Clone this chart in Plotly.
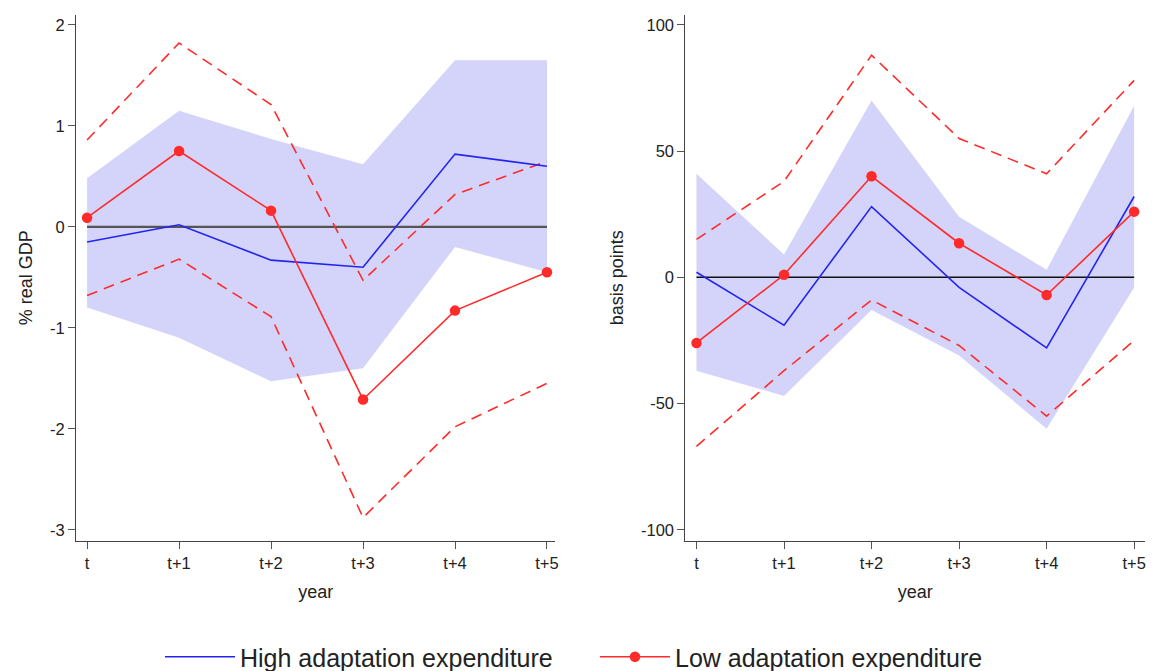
import plotly.graph_objects as go

years = ["t", "t+1", "t+2", "t+3", "t+4", "t+5"]

# Left panel: % real GDP
gdp_high = [-0.15, 0.02, -0.33, -0.40, 0.72, 0.60]
gdp_high_hi = [0.48, 1.15, 0.87, 0.62, 1.65, 1.65]
gdp_high_lo = [-0.80, -1.10, -1.53, -1.40, -0.20, -0.45]
gdp_low = [0.09, 0.75, 0.16, -1.71, -0.83, -0.45]
gdp_low_hi = [0.86, 1.82, 1.21, -0.53, 0.32, 0.65]
gdp_low_lo = [-0.68, -0.32, -0.89, -2.88, -1.98, -1.55]
gdp_ticks = [-3, -2, -1, 0, 1, 2]

# Right panel: basis points
bp_high = [2, -19, 28, -4, -28, 32]
bp_high_hi = [41, 9, 70, 24, 3, 68]
bp_high_lo = [-37, -47, -13, -31, -60, -4]
bp_low = [-26, 1, 40, 13.5, -7, 26]
bp_low_hi = [15, 38, 88, 55, 41, 78]
bp_low_lo = [-67, -37, -9, -27, -55, -25]
bp_ticks = [-100, -50, 0, 50, 100]

x = list(range(len(years)))
zeros = [0] * len(years)

BAND = "rgba(212,212,251,1)"
BLUE = "#2424f0"
RED = "#ff2a2a"
FONT = "Liberation Sans, Arial, sans-serif"
DASH = "11px,7px"

fig = go.Figure()

def add_panel(xa, ya, hi_b, lo_b, high, low, low_hi, low_lo, zcolor, zwidth, legend):
    fig.add_trace(go.Scatter(x=x, y=hi_b, mode="lines", line=dict(width=0, color=BAND),
                             showlegend=False, hoverinfo="skip", xaxis=xa, yaxis=ya))
    fig.add_trace(go.Scatter(x=x, y=lo_b, mode="lines", line=dict(width=0, color=BAND),
                             fill="tonexty", fillcolor=BAND,
                             showlegend=False, hoverinfo="skip", xaxis=xa, yaxis=ya))
    fig.add_trace(go.Scatter(x=x, y=zeros, mode="lines", line=dict(width=zwidth, color=zcolor),
                             showlegend=False, xaxis=xa, yaxis=ya))
    fig.add_trace(go.Scatter(x=x, y=low_hi, mode="lines", line=dict(width=1.6, color=RED, dash=DASH),
                             showlegend=False, xaxis=xa, yaxis=ya))
    fig.add_trace(go.Scatter(x=x, y=low_lo, mode="lines", line=dict(width=1.6, color=RED, dash=DASH),
                             showlegend=False, xaxis=xa, yaxis=ya))
    fig.add_trace(go.Scatter(x=x, y=high, mode="lines", line=dict(width=1.6, color=BLUE),
                             name="High adaptation expenditure", showlegend=legend,
                             legendrank=1, xaxis=xa, yaxis=ya))
    fig.add_trace(go.Scatter(x=x, y=low, mode="lines+markers", line=dict(width=1.6, color=RED),
                             marker=dict(size=10.5, color=RED),
                             name="Low adaptation expenditure", showlegend=legend,
                             legendrank=2, xaxis=xa, yaxis=ya))

add_panel("x", "y", gdp_high_hi, gdp_high_lo, gdp_high, gdp_low, gdp_low_hi, gdp_low_lo, "#555555", 2.2, True)
add_panel("x2", "y2", bp_high_hi, bp_high_lo, bp_high, bp_low, bp_low_hi, bp_low_lo, "#111111", 1.5, False)

axis_common = dict(showgrid=False, zeroline=False, showline=True, linecolor="#444444", linewidth=1.2,
                   ticks="outside", ticklen=7, tickcolor="#555555", tickwidth=1.2,
                   tickfont=dict(size=16.5, color="#222222", family=FONT))

ydom = [0.194, 0.978]
fig.update_layout(
    width=1152, height=671,
    margin=dict(l=0, r=0, t=0, b=0, autoexpand=False),
    paper_bgcolor="white", plot_bgcolor="white",
    font=dict(family=FONT, color="#222222"),
    xaxis=dict(domain=[0.066, 0.482], range=[-0.12, 5.09], tickvals=x, ticktext=years, anchor="y",
               title=dict(text="year", font=dict(size=18), standoff=14), **axis_common),
    yaxis=dict(domain=ydom, range=[-3.11, 2.1], tickvals=gdp_ticks,
               ticktext=[str(v) for v in gdp_ticks], anchor="x",
               title=dict(text="% real GDP", font=dict(size=18), standoff=12), **axis_common),
    xaxis2=dict(domain=[0.595, 0.994], range=[-0.126, 5.125], tickvals=x, ticktext=years, anchor="y2",
                title=dict(text="year", font=dict(size=18), standoff=14), **axis_common),
    yaxis2=dict(domain=ydom, range=[-104.4, 104], tickvals=bp_ticks,
                ticktext=[str(v) for v in bp_ticks], anchor="x2",
                title=dict(text="basis points", font=dict(size=18), standoff=12), **axis_common),
    legend=dict(orientation="h", x=160 / 1152, xanchor="left", y=(671 - 657) / 671, yanchor="middle",
                traceorder="normal",
                font=dict(size=25, color="#222222"), itemwidth=70, entrywidth=350,
                bgcolor="rgba(0,0,0,0)"),
)

fig.write_html("out.html")
